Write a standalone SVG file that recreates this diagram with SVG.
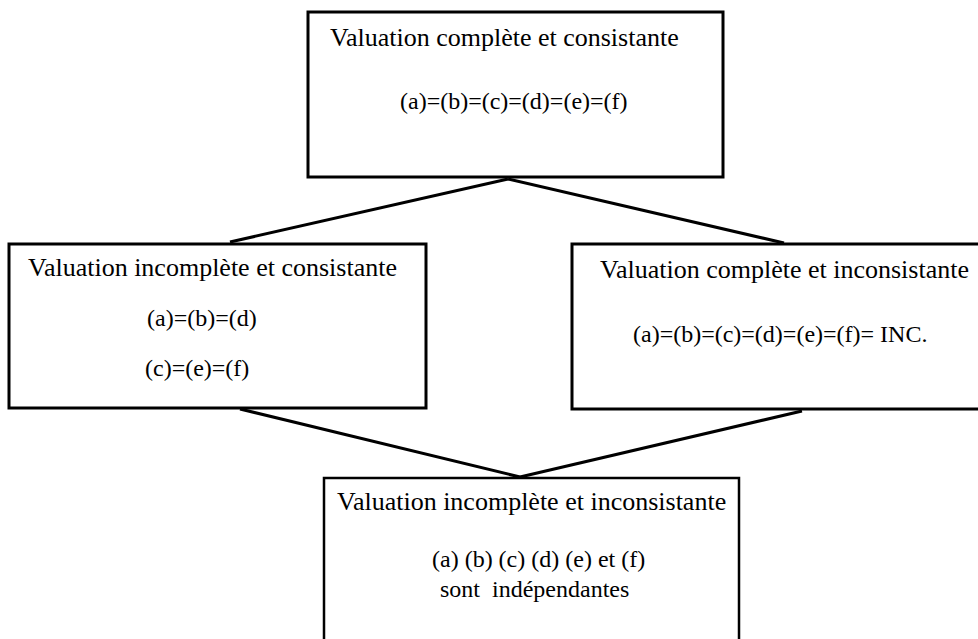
<svg xmlns="http://www.w3.org/2000/svg" width="978" height="639" viewBox="0 0 978 639">
<style>
.box{fill:#fff;stroke:#000;stroke-width:3}
.t{font-family:"Liberation Serif","Times New Roman",serif;font-size:26px;fill:#000}
.f{font-family:"Liberation Serif","Times New Roman",serif;font-size:24px;fill:#000}
.c{stroke:#000;stroke-width:3;fill:none}
</style>
<rect width="978" height="639" fill="#fff"/>
<g id="connectors">
<line class="c" x1="508" y1="179" x2="230" y2="242"/>
<line class="c" x1="508" y1="179" x2="784" y2="243"/>
<line class="c" x1="240" y1="409" x2="520" y2="477"/>
<line class="c" x1="802" y1="411" x2="520" y2="477"/>
</g>
<g id="node-top">
<rect class="box" x="308" y="12" width="415" height="165"/>
<text class="t" x="330" y="46">Valuation complète et consistante</text>
<text class="f" x="400" y="109">(a)=(b)=(c)=(d)=(e)=(f)</text>
</g>
<g id="node-left">
<rect class="box" x="9" y="244" width="417" height="164"/>
<text class="t" x="28" y="276">Valuation incomplète et consistante</text>
<text class="f" x="147" y="326">(a)=(b)=(d)</text>
<text class="f" x="145" y="376">(c)=(e)=(f)</text>
</g>
<g id="node-right">
<rect class="box" x="572" y="244" width="420" height="165"/>
<text class="t" x="600" y="278">Valuation complète et inconsistante</text>
<text class="f" x="633" y="342">(a)=(b)=(c)=(d)=(e)=(f)= INC.</text>
</g>
<g id="node-bottom">
<rect class="box" x="324" y="478" width="415" height="175" style="stroke-width:2.5"/>
<text class="t" x="337" y="510">Valuation incomplète et inconsistante</text>
<text class="f" x="432" y="567">(a) (b) (c) (d) (e) et (f)</text>
<text class="f" x="440" y="597" xml:space="preserve">sont  indépendantes</text>
</g>
</svg>
